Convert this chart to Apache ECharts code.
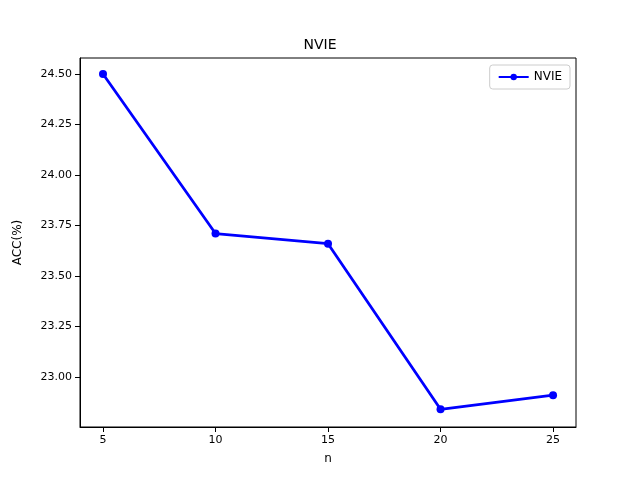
<!DOCTYPE html>
<html><head><meta charset="utf-8">
<script src="https://cdn.jsdelivr.net/npm/echarts@6/dist/echarts.min.js"></script>
<style>html,body{margin:0;padding:0;background:#fff}#c{width:640px;height:480px}</style>
</head><body><div id="c"></div>
<script>
const nValues = [5, 10, 15, 20, 25];
const accValues = [24.50, 23.71, 23.66, 22.84, 22.91];
const xTicks = [5, 10, 15, 20, 25];
const yTicks = [23.00, 23.25, 23.50, 23.75, 24.00, 24.25, 24.50];
const font = 'DejaVu Sans';
const chart = echarts.init(document.getElementById('c'));
chart.setOption({
  animation: false,
  title: {text: 'NVIE', left: 'center', top: 33, textStyle: {fontFamily: font, fontSize: 14, fontWeight: 'normal', color: '#000'}},
  legend: {right: 70, top: 65, itemWidth: 30, itemHeight: 8, itemGap: 6, borderColor: '#ccc', borderWidth: 1, borderRadius: 3, padding: [6, 8],
    textStyle: {fontFamily: font, fontSize: 12, color: '#000'}, data: ['NVIE']},
  grid: {left: 80, right: 64, top: 58, bottom: 53},
  xAxis: {type: 'value', min: 3.978, max: 26.02, name: 'n', nameLocation: 'middle', nameGap: 26,
    nameTextStyle: {fontFamily: font, fontSize: 12, color: '#000'},
    axisLine: {show: true, onZero: false, lineStyle: {color: '#000'}},
    axisTick: {show: true, customValues: xTicks, lineStyle: {color: '#000'}},
    axisLabel: {customValues: xTicks, fontFamily: font, fontSize: 11, color: '#000'},
    splitLine: {show: false}},
  yAxis: {type: 'value', min: 22.7525, max: 24.579, name: 'ACC(%)', nameLocation: 'middle', nameGap: 56,
    nameTextStyle: {fontFamily: font, fontSize: 12, color: '#000'},
    axisLine: {show: true, lineStyle: {color: '#000'}},
    axisTick: {show: true, customValues: yTicks, lineStyle: {color: '#000'}},
    axisLabel: {customValues: yTicks, formatter: v => v.toFixed(2), fontFamily: font, fontSize: 11, color: '#000'},
    splitLine: {show: false}},
  series: [{name: 'NVIE', type: 'line', data: nValues.map((n, i) => [n, accValues[i]]),
    symbol: 'circle', symbolSize: 8, lineStyle: {color: '#0000ff', width: 2.8}, itemStyle: {color: '#0000ff'}}]
});
chart.setOption({graphic: [{type: 'rect', shape: {x: 80, y: 58, width: 496, height: 369}, style: {fill: 'none', stroke: '#000', lineWidth: 1}, silent: true}]});
</script></body></html>
